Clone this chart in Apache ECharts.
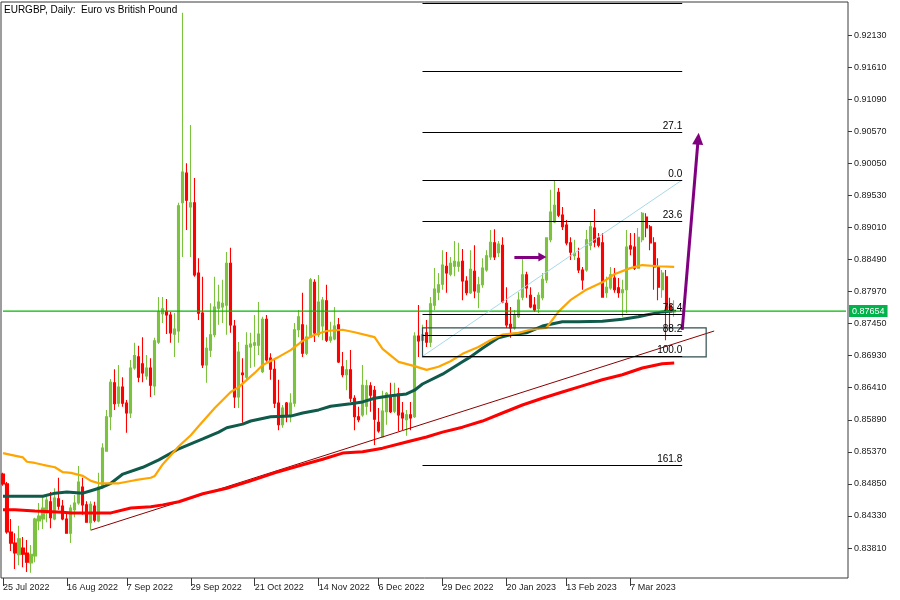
<!DOCTYPE html>
<html><head><meta charset="utf-8">
<script src="https://cdn.jsdelivr.net/npm/echarts@6/dist/echarts.min.js"></script>
<style>html,body{margin:0;padding:0;background:#fff}#c{width:900px;height:600px}</style>
</head><body><div id="c"></div>
<script>
const opens = [.8501,.8485,.8407,.8389,.8370,.8381,.8373,.8357,.8368,.8425,.8428,.8438,.8456,.8428,.8461,.8449,.8428,.8405,.8443,.8454,.8480,.8451,.8422,.8449,.8425,.8480,.8538,.8594,.8649,.8616,.8642,.8616,.8600,.8673,.8691,.8680,.8660,.8673,.8644,.8715,.8761,.8765,.8759,.8728,.8733,.8941,.8989,.8934,.8941,.8827,.8762,.8678,.8702,.8727,.8770,.8772,.8775,.8843,.8741,.8626,.8665,.8658,.8707,.8710,.8710,.8667,.8752,.8689,.8671,.8616,.8581,.8616,.8597,.8616,.8735,.8743,.8697,.8723,.8812,.8727,.8741,.8782,.8718,.8720,.8743,.8675,.8662,.8670,.8624,.8594,.8597,.8611,.8644,.8637,.8585,.8561,.8602,.8626,.8603,.8631,.8600,.8589,.8597,.8594,.8725,.8718,.8730,.8715,.8775,.8796,.8809,.8838,.8825,.8838,.8838,.8846,.8814,.8795,.8830,.8796,.8808,.8832,.8853,.8876,.8860,.8872,.8778,.8744,.8738,.8756,.8788,.8824,.8791,.8775,.8769,.8787,.8816,.8881,.8910,.8958,.8921,.8905,.8876,.8855,.8851,.8832,.8832,.8872,.8900,.8884,.8876,.8795,.8803,.8819,.8803,.8795,.8800,.8871,.8869,.8835,.8881,.8918,.8902,.8876,.8837,.8800,.8821,.8775,.8764];
const closes = [.8485,.8407,.8389,.8373,.8396,.8371,.8358,.8371,.8428,.8433,.8446,.8459,.8430,.8462,.8449,.8428,.8405,.8446,.8454,.8488,.8451,.8423,.8452,.8426,.8480,.8543,.8594,.8650,.8615,.8642,.8616,.8600,.8673,.8693,.8658,.8665,.8673,.8645,.8717,.8764,.8769,.8759,.8730,.8736,.8936,.8991,.8945,.8941,.8824,.8762,.8678,.8705,.8727,.8772,.8780,.8778,.8843,.8743,.8626,.8699,.8662,.8710,.8712,.8714,.8728,.8752,.8686,.8671,.8616,.8581,.8608,.8594,.8616,.8735,.8756,.8697,.8723,.8816,.8730,.8780,.8783,.8718,.8723,.8741,.8683,.8662,.8670,.8624,.8594,.8589,.8645,.8644,.8629,.8590,.8571,.8603,.8632,.8602,.8629,.8597,.8592,.8597,.8592,.8725,.8717,.8727,.8715,.8777,.8801,.8808,.8840,.8827,.8843,.8846,.8845,.8814,.8795,.8833,.8798,.8808,.8835,.8855,.8877,.8853,.8874,.8780,.8743,.8738,.8759,.8783,.8824,.8803,.8772,.8767,.8791,.8817,.8884,.8926,.8937,.8921,.8902,.8876,.8861,.8859,.8832,.8816,.8881,.8902,.8877,.8872,.8788,.8804,.8824,.8800,.8795,.8800,.8869,.8866,.8835,.8885,.8924,.8900,.8876,.8837,.8804,.8827,.8764,.8764,.87654];
const lows = [.8482,.8404,.8376,.8347,.8353,.8350,.8342,.8341,.8358,.8410,.8412,.8423,.8413,.8426,.8443,.8426,.8405,.8389,.8431,.8451,.8435,.8422,.8410,.8423,.8423,.8478,.8537,.8572,.8605,.8610,.8610,.8568,.8592,.8670,.8650,.8650,.8654,.8626,.8629,.8712,.8746,.8728,.8714,.8691,.8714,.8853,.8897,.8853,.8821,.8751,.8673,.8649,.8691,.8723,.8743,.8746,.8727,.8730,.8608,.8608,.8584,.8654,.8673,.8675,.8694,.8665,.8683,.8654,.8608,.8572,.8576,.8585,.8585,.8610,.8723,.8691,.8694,.8722,.8715,.8723,.8718,.8715,.8714,.8718,.8681,.8658,.8637,.8618,.8572,.8585,.8594,.8597,.8602,.8548,.8568,.8561,.8581,.8600,.8600,.8571,.8572,.8563,.8572,.8592,.8691,.8710,.8707,.8707,.8767,.8783,.8800,.8795,.8822,.8822,.8829,.8783,.8791,.8793,.8786,.8770,.8803,.8829,.8848,.8848,.8853,.8778,.8738,.8722,.8735,.8754,.8783,.8787,.8770,.8764,.8762,.8783,.8811,.8877,.8908,.8918,.8897,.8872,.8848,.8848,.8827,.8800,.8829,.8864,.8869,.8869,.8787,.8787,.8800,.8795,.8787,.8756,.8762,.8856,.8832,.8835,.8877,.8885,.8864,.8800,.8783,.8787,.8718,.8735,.8756];
const highs = [.8503,.8488,.8428,.8405,.8417,.8399,.8394,.8386,.8430,.8454,.8464,.8464,.8472,.8478,.8495,.8459,.8438,.8451,.8467,.8514,.8495,.8457,.8457,.8456,.8503,.8551,.8605,.8655,.8671,.8678,.8658,.8621,.8686,.8714,.8709,.8723,.8694,.8689,.8722,.8788,.8788,.8785,.8764,.8762,.8941,.9249,.9005,.9067,.8981,.8851,.8821,.8723,.8778,.8821,.8808,.8816,.8861,.8868,.8751,.8715,.8689,.8731,.8730,.8759,.8780,.8756,.8759,.8697,.8686,.8654,.8613,.8618,.8632,.8746,.8767,.8795,.8743,.8819,.8817,.8824,.8788,.8808,.8748,.8772,.8754,.8699,.8686,.8702,.8629,.8610,.8678,.8654,.8650,.8644,.8608,.8636,.8634,.8649,.8649,.8641,.8618,.8605,.8618,.8731,.8775,.8743,.8751,.8788,.8835,.8827,.8864,.8861,.8853,.8879,.8876,.8866,.8822,.8864,.8872,.8821,.8851,.8864,.8897,.8898,.8879,.8885,.8804,.8772,.8767,.8796,.8853,.8829,.8804,.8788,.8796,.8827,.8885,.8962,.8978,.8965,.8934,.8913,.8885,.8881,.8868,.8837,.8897,.8910,.8931,.8892,.8892,.8821,.8837,.8835,.8819,.8816,.8897,.8892,.8892,.8900,.8926,.8924,.8905,.8885,.8851,.8832,.8832,.8787,.8783];

const ma50Idx = [0,2,5,6,8,10,13,15,17,20,22,24,27,29,33,37,38,40,44,47,49,53,57,59,63,65,69,72,75,78,81,85,88,93,95,99,103,106,109,112,115,119,122,125,129,132,136,139,142,146,150,153,157,160,164,168];
const ma50Val = [.8535,.8532,.8528,.8521,.8519,.8516,.8512,.8504,.8503,.8498,.8490,.8486,.8486,.8486,.8491,.8495,.8498,.8517,.8546,.8564,.8579,.8608,.8634,.8642,.8665,.8678,.8691,.8702,.8717,.8727,.8733,.8735,.8731,.8723,.8704,.8683,.8676,.8670,.8675,.8684,.8696,.8707,.8718,.8727,.8730,.8735,.8738,.8764,.8783,.8800,.8812,.8825,.8835,.8840,.8838,.8837];
const ma100Idx = [0,10,13,16,20,22,25,27,30,35,39,44,50,54,56,60,62,67,72,75,79,82,87,90,93,97,101,103,105,110,115,117,120,124,127,131,135,140,144,150,155,159,161,165,168];
const ma100Val = [.8465,.8465,.8470,.8472,.8470,.8474,.8480,.8486,.8501,.8512,.8524,.8542,.8558,.8569,.8576,.8582,.8587,.8594,.8595,.8600,.8605,.8611,.8615,.8618,.8624,.8628,.8631,.8637,.8647,.8663,.8683,.8691,.8705,.8722,.8727,.8730,.8741,.8748,.8748,.8749,.8752,.8756,.8759,.8764,.8766];
const ma200Idx = [0,3,8,15,17,25,27,32,37,40,44,50,56,62,68,75,80,85,90,95,101,106,110,115,120,125,130,135,140,145,150,155,160,165,168];
const ma200Val = [.8443,.8443,.8441,.8439,.8438,.8438,.8438,.8446,.8448,.8451,.8456,.8469,.8478,.8490,.8503,.8516,.8525,.8535,.8537,.8543,.8553,.8561,.8569,.8577,.8587,.8600,.8613,.8624,.8634,.8644,.8654,.8662,.8673,.8680,.8681];

const trendIdx = [22, 178];
const trendVal = [.8410, .8733];

const fibHigh = 0.8978, fibLow = 0.8692;
const fibStartIdx = 105, fibEndIdx = 170;
const fibLevels = [-100, -61.8, -27.1, 0, 23.6, 76.4, 88.2, 100, 161.8];
const fibTexts = ['', '', '27.1', '0.0', '23.6', '76.4', '88.2', '100.0', '161.8'];

const boxIdx = [105, 176];
const boxVal = [0.8738, 0.8691];

const bigArrowIdx = [170, 174];
const bigArrowVal = [0.8735, 0.9045];
const smallArrowIdx = [128, 135];
const smallArrowVal = [0.8853, 0.8853];

const lastPrice = 0.87654;

const tickIdx = [0,16,31,47,63,79,94,110,126,141,157];
const tickLabels = ['25 Jul 2022','16 Aug 2022','7 Sep 2022','29 Sep 2022','21 Oct 2022','14 Nov 2022','6 Dec 2022','29 Dec 2022','20 Jan 2023','13 Feb 2023','7 Mar 2023'];
const yTicks = [0.83810,0.84330,0.84850,0.85370,0.85890,0.86410,0.86930,0.87450,0.87970,0.88490,0.89010,0.89530,0.90050,0.90570,0.91090,0.91610,0.92130];
const Y_MIN = 0.83324, Y_MAX = 0.92666;
const N_SLOTS = 212;

const FONT = '"Liberation Sans", Arial, sans-serif';
const categories = Array.from({length: N_SLOTS}, (_, i) => String(i));
const labelMap = {};
tickIdx.forEach((ix, k) => labelMap[ix] = tickLabels[k]);
const candleData = opens.map((o, i) => [o, closes[i], lows[i], highs[i]]);
const pairs = (ix, vs) => ix.map((x, k) => [x, vs[k]]);

const fibMark = fibLevels.map((lv, k) => {
  const v = fibHigh - (fibHigh - fibLow) * lv / 100;
  return [
    {coord: [fibStartIdx, v], symbol: 'none'},
    {coord: [fibEndIdx, v], symbol: 'none',
     lineStyle: {color: '#000', width: 1.2, type: 'solid'},
     label: {show: fibTexts[k] !== '', position: 'insideEndTop', formatter: fibTexts[k], color: '#000', fontSize: 10, fontFamily: FONT, distance: [0, 1]}}
  ];
});

const chart = echarts.init(document.getElementById('c'), null, {renderer: 'canvas'});
chart.setOption({
  animation: false,
  backgroundColor: '#fff',
  title: {text: 'EURGBP, Daily:  Euro vs British Pound', left: 4, top: 5, padding: 0,
    textStyle: {fontSize: 10, fontWeight: 'normal', color: '#000', fontFamily: FONT}},
  grid: {left: 1, right: 52, top: 2, bottom: 22, show: true, borderColor: '#3a3a3a', borderWidth: 1, backgroundColor: '#fff'},
  xAxis: {
    type: 'category', data: categories, boundaryGap: true,
    axisLine: {show: false},
    axisTick: {show: true, alignWithLabel: true, length: 8, interval: (i) => labelMap[i] !== undefined, lineStyle: {color: '#3a3a3a'}},
    axisLabel: {interval: (i) => labelMap[i] !== undefined, formatter: (v, i) => labelMap[+v] || '', align: 'left', margin: 5, fontSize: 9, color: '#222', fontFamily: FONT},
    splitLine: {show: false}
  },
  yAxis: {
    type: 'value', position: 'right', min: Y_MIN, max: Y_MAX, scale: true,
    axisLine: {show: false},
    axisTick: {show: true, customValues: yTicks, length: 4, lineStyle: {color: '#3a3a3a'}},
    axisLabel: {customValues: yTicks, formatter: (v) => v.toFixed(5), fontSize: 9, margin: 6, color: '#222', fontFamily: FONT},
    splitLine: {show: false}
  },
  series: [
    {
      type: 'candlestick', name: 'EURGBP', data: candleData, barWidth: 2.6, z: 2,
      itemStyle: {color: '#7cc23e', color0: '#ff0000', borderColor: '#7cc23e', borderColor0: '#ff0000', borderWidth: 1.1},
      markArea: {silent: true, z: 5, data: [[
        {coord: [boxIdx[0], boxVal[0]], itemStyle: {color: 'rgba(0,0,0,0)', borderColor: '#2f4f4f', borderWidth: 1.2}},
        {coord: [boxIdx[1], boxVal[1]]}
      ]]},
      markLine: {silent: true, symbol: ['none', 'none'], animation: false, z: 6,
        data: [
          ...fibMark,
          [{coord: [bigArrowIdx[0], bigArrowVal[0]], symbol: 'none'},
           {coord: [bigArrowIdx[1], bigArrowVal[1]], symbol: 'triangle', symbolSize: [11, 12],
            lineStyle: {color: '#800080', width: 3, type: 'solid'}, itemStyle: {color: '#800080'}, label: {show: false}}],
          [{coord: [smallArrowIdx[0], smallArrowVal[0]], symbol: 'none'},
           {coord: [smallArrowIdx[1], smallArrowVal[1]], symbol: 'triangle', symbolSize: [9, 8],
            lineStyle: {color: '#800080', width: 3, type: 'solid'}, itemStyle: {color: '#800080'}, label: {show: false}}]
        ]}
    },
    {type: 'line', name: 'price', data: [[0, lastPrice], [N_SLOTS - 1, lastPrice]], symbol: 'none', z: 4,
     lineStyle: {color: '#00b800', width: 1.3},
     endLabel: {show: true, formatter: '0.87654', color: '#fff', backgroundColor: '#00b34a', padding: [2, 3, 1, 3], fontSize: 9, fontFamily: FONT, distance: 3}},
    {type: 'line', name: 'trend', data: pairs(trendIdx, trendVal), symbol: 'none', z: 3,
     lineStyle: {color: '#8b0000', width: 1}},
    {type: 'line', name: 'MA200', data: pairs(ma200Idx, ma200Val), symbol: 'none', z: 3,
     lineStyle: {color: '#ff0000', width: 3}},
    {type: 'line', name: 'MA100', data: pairs(ma100Idx, ma100Val), symbol: 'none', z: 3,
     lineStyle: {color: '#0f5a4a', width: 3}},
    {type: 'line', name: 'MA50', data: pairs(ma50Idx, ma50Val), symbol: 'none', z: 3,
     lineStyle: {color: '#ffa500', width: 2.2}},
    {type: 'line', name: 'fibDiag', data: [[fibStartIdx, fibLow], [fibEndIdx, fibHigh]], symbol: 'none', z: 4,
     lineStyle: {color: '#a8d8ea', width: 1}}
  ]
});
</script></body></html>
